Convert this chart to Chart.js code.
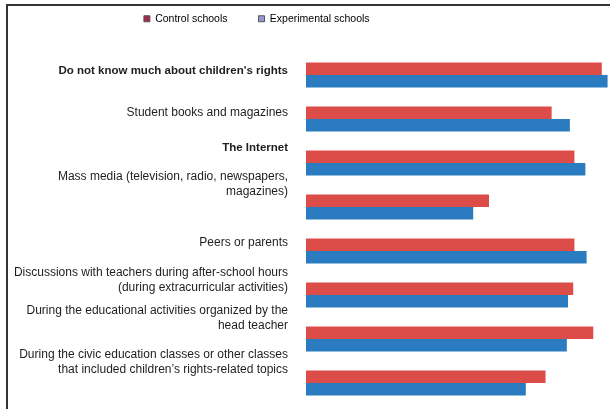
<!DOCTYPE html>
<html>
<head>
<meta charset="utf-8">
<script src="https://cdn.jsdelivr.net/npm/chart.js@4.4.0/dist/chart.umd.min.js"></script>
<style>
  html, body { margin: 0; padding: 0; background: #fff; }
  #frame { position: absolute; left: 6px; top: 4px; width: 604px; height: 405px;
           border-top: 2px solid #333; border-left: 2px solid #333; }
  #chart { position: absolute; left: 0; top: 0; }
</style>
</head>
<body>
<div id="frame"></div>
<canvas id="chart" width="610" height="409"></canvas>
<script>
// categories, top to bottom
const categories = [
    "Do not know much about children's rights",
    "Student books and magazines",
    "The Internet",
    ["Mass media (television, radio, newspapers,", "magazines)"],
    "Peers or parents",
    ["Discussions with teachers during after-school hours", "(during extracurricular activities)"],
    ["During the educational activities organized by the", "head teacher"],
    ["During the civic education classes or other classes", "that included children\u2019s rights-related topics"]
];
const seriesNames = ["Control schools", "Experimental schools"];
const controlSchools = [97.3, 80.8, 88.3, 60.2, 88.3, 87.9, 94.5, 78.8];
const experimentalSchools = [99.2, 86.8, 91.9, 55.0, 92.3, 86.2, 85.8, 72.3];

const boldRows = [0, 2];
const barColors = ["#dc4c48", "#2a7bc0"];
const legendColors = ["#a3284a", "#9696d2"];
// labels in the original sit a bit above their bars
const labelNudge = [-4, -6, -15, -23, -8, -15, -21, -21];
const FONT = "'Liberation Sans', Arial, sans-serif";

const placeText = {
    id: "placeText",
    afterLayout(chart)
    {
        const items = chart.scales.y.getLabelItems();
        items.forEach((item, i) =>
        {
            item.options.translation[1] += labelNudge[i];
        });

        // legend sits left of centre and close to the top edge
        const legend = chart.legend;
        legend.left = 0;
        legend.right = 513.5;
        legend.top = -17.5;
    }
};

const ctx = document.getElementById("chart").getContext("2d");

new Chart(ctx, {
    type: "bar",
    data: {
        labels: categories,
        datasets: [
            { label: seriesNames[0], data: controlSchools, backgroundColor: barColors[0] },
            { label: seriesNames[1], data: experimentalSchools, backgroundColor: barColors[1] }
        ]
    },
    options: {
        indexAxis: "y",
        responsive: false,
        animation: false,
        barPercentage: 1,
        categoryPercentage: 0.568,
        layout: { padding: { left: 0, right: 0, top: 1.5, bottom: 4 } },
        scales: {
            x: { display: false, min: 0, max: 100 },
            y: {
                grid: { display: false, drawTicks: false },
                border: { display: false },
                afterFit: scale =>
                {
                    scale.width = 306;
                    scale.paddingTop = 0;
                    scale.paddingBottom = 0;
                },
                ticks: {
                    padding: 18,
                    color: "#1e1e1e",
                    autoSkip: false,
                    font: c => ({
                        family: FONT,
                        size: boldRows.includes(c.index) ? 11.5 : 12,
                        lineHeight: 1.2,
                        weight: boldRows.includes(c.index) ? "bold" : "normal"
                    })
                }
            }
        },
        plugins: {
            tooltip: { enabled: false },
            legend: {
                position: "top",
                labels: {
                    boxWidth: 6,
                    boxHeight: 6,
                    padding: 31,
                    color: "#222",
                    font: { family: FONT, size: 10.5 },
                    generateLabels: chart => chart.data.datasets.map((ds, i) => ({
                        text: ds.label,
                        fillStyle: legendColors[i],
                        strokeStyle: "#555",
                        lineWidth: 1,
                        hidden: false,
                        datasetIndex: i
                    }))
                }
            }
        }
    },
    plugins: [placeText]
});
</script>
</body>
</html>
